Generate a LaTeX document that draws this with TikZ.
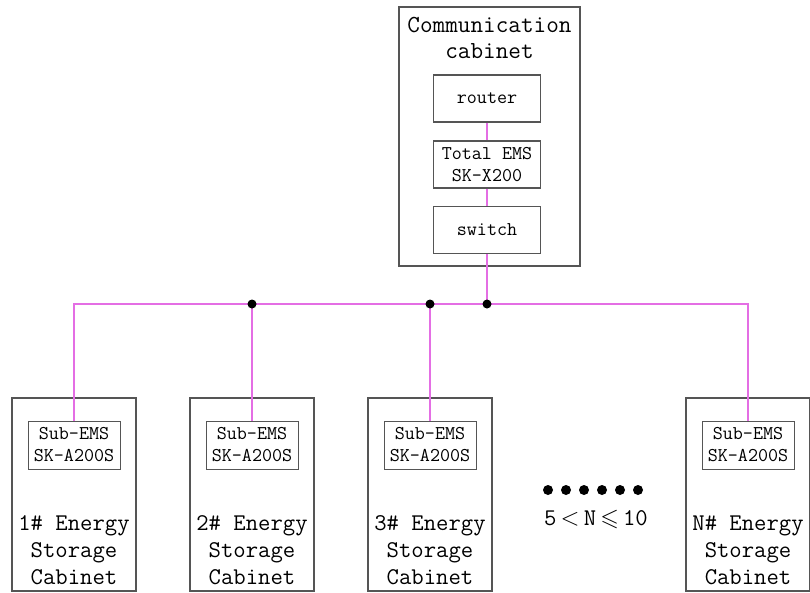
\documentclass[tikz,border=0pt]{standalone}
\usepackage{amssymb}
\usepackage{fontspec}
\usetikzlibrary{positioning}
\definecolor{buspink}{RGB}{228,110,228}
\definecolor{boxgray}{RGB}{85,85,85}
\begin{document}
\begin{tikzpicture}[x=1pt,y=-1pt,
    cab/.style={draw=boxgray,line width=1.2pt,minimum width=124pt,minimum height=193pt,inner sep=0pt},
    dev/.style={draw=boxgray,line width=1.2pt,minimum width=107pt,minimum height=47pt,inner sep=0pt,align=center,font=\ttfamily\fontsize{19.5}{22}\selectfont},
    sub/.style={draw=boxgray,line width=1pt,minimum width=92pt,minimum height=48pt,inner sep=0pt,align=center,font=\ttfamily\fontsize{19.5}{22}\selectfont},
    big/.style={inner sep=0pt,align=center,font=\ttfamily\fontsize{24}{27}\selectfont},
    link/.style={buspink,line width=1.5pt},
    joint/.style={circle,fill=black,inner sep=0pt,minimum size=9pt}]
    % Frame
    \useasboundingbox (0,0) rectangle (810,592);
    % Communication cabinet
    \node[cab,minimum width=181pt,minimum height=259pt] (comm) at (489.5,136.5) {};
    \node[big,font=\ttfamily\fontsize{24.5}{26}\selectfont] (commtitle) at (489.5,38) {Communication\\cabinet};
    \node[dev] (router) at (487,98.5) {router};
    \node[dev] (ems) at (487,164.5) {Total EMS\\SK-X200};
    \node[dev] (switch) at (487,230) {switch};
    % Energy storage cabinets
    \foreach \x/\n [count=\i] in {74/1,252/2,430/3,748/N}{
        \node[cab] (cab\i) at (\x,494.5) {};
        \node[sub] (sub\i) at (\x,445) {Sub-EMS\\SK-A200S};
        \node[big] (name\i) at (\x,550) {\n\# Energy\\Storage\\Cabinet};
    }
    % Coordinate
    \coordinate (jsw) at (487,304);
    \coordinate (j2) at (252,304);
    \coordinate (j3) at (430,304);
    \coordinate (busR) at (748,304);
    % Linee
    \draw[link] (router) -- (ems);
    \draw[link] (ems) -- (switch);
    \draw[link] (switch) -- (jsw);
    \draw[link] (sub1.north) |- (busR) -- (sub4.north); % bus
    \draw[link] (j2) -- (sub2);
    \draw[link] (j3) -- (sub3);
    \foreach \p in {jsw,j2,j3}
        \node[joint] at (\p) {};
    % Omitted cabinets
    \foreach \k in {0,...,5}
        \fill (548+\k*18,490) circle (5pt);
    \node[font=\ttfamily\fontsize{24}{27}\selectfont,inner sep=0pt] (range) at (596,519) {5$\,<\,$N$\,\leqslant\,$10};
\end{tikzpicture}
\end{document}
